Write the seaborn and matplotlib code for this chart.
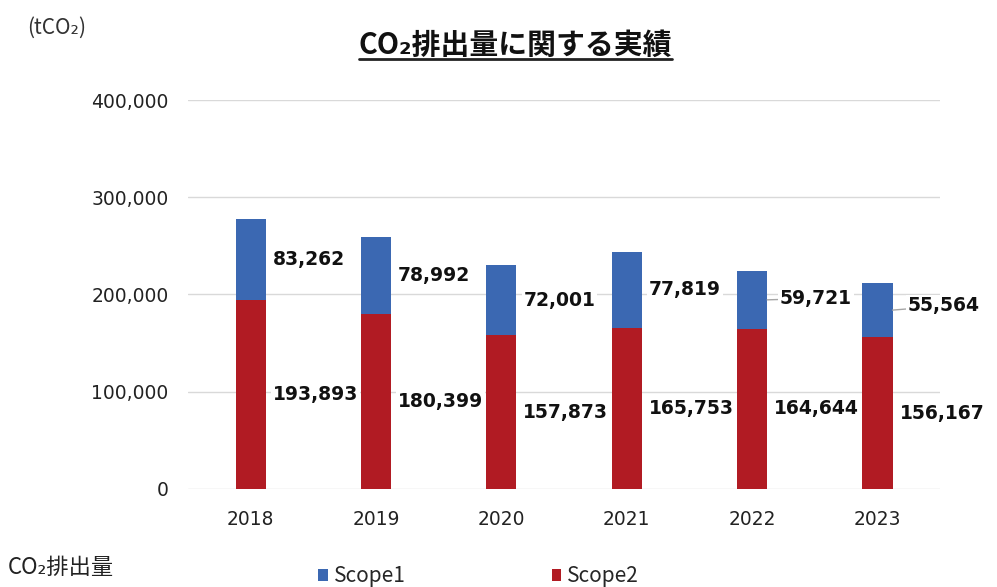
import numpy as np
import pandas as pd
import matplotlib
matplotlib.use('Agg')
import matplotlib.pyplot as plt
from matplotlib.patches import Patch
from matplotlib.lines import Line2D
import seaborn as sns

years = ['2018', '2019', '2020', '2021', '2022', '2023']
scope1 = [83262, 78992, 72001, 77819, 59721, 55564]
scope2 = [193893, 180399, 157873, 165753, 164644, 156167]

blue = '#3b68b2'
red = '#b11b23'

sns.set_theme(style='white')
plt.rcParams['font.family'] = ['DejaVu Sans', 'Noto Sans CJK JP']
jp = ['Noto Sans CJK JP', 'DejaVu Sans']

df = pd.DataFrame({'year': years, 'scope1': scope1, 'scope2': scope2})
df['total'] = df['scope1'] + df['scope2']

fig = plt.figure(figsize=(9.97, 5.87), dpi=100)
ax = fig.add_axes([0.1886, 0.167, 0.7544, 0.6626])

# stacked bars: draw the totals in blue, then Scope2 over them in red
sns.barplot(data=df, x='year', y='total', color=blue, width=0.24, saturation=1,
            linewidth=0, ax=ax)
sns.barplot(data=df, x='year', y='scope2', color=red, width=0.24, saturation=1,
            linewidth=0, ax=ax)

ax.set_ylim(0, 400000)
ax.set_yticks([0, 100000, 200000, 300000, 400000])
ax.set_yticklabels([f'{v:,}' for v in ax.get_yticks().astype(int)])
ax.yaxis.grid(True, color='#d9d9d9', linewidth=1)
ax.set_axisbelow(True)
for s in ax.spines.values():
    s.set_visible(False)
ax.set_xlabel('')
ax.set_ylabel('')
ax.tick_params(axis='y', labelsize=13.5, pad=14, length=0, colors='#222222')
ax.tick_params(axis='x', labelsize=13.4, pad=15, length=0, colors='#222222')

# data labels to the right of each bar segment
s1_off = [(5, 0), (5, 0), (5, 0), (5, 0), (9, 1), (11, 3)]
for i in range(len(years)):
    y1 = scope2[i] + scope1[i] / 2
    y2 = scope2[i] / 2
    dx, dy = s1_off[i]
    lead = dict(arrowstyle='-', color='#a6a6a6', lw=1, shrinkA=0, shrinkB=0) if dx > 5 else None
    ax.annotate(f'{scope1[i]:,}', xy=(i + 0.12, y1), xytext=(dx, dy), textcoords='offset points',
                ha='left', va='center', fontsize=13.5, fontweight='bold', color='#111111',
                bbox=dict(boxstyle='square,pad=0.1', fc='white', ec='none'),
                arrowprops=lead)
    ax.annotate(f'{scope2[i]:,}', xy=(i + 0.12, y2), xytext=(5, 0), textcoords='offset points',
                ha='left', va='center', fontsize=13.5, fontweight='bold', color='#111111',
                bbox=dict(boxstyle='square,pad=0.1', fc='white', ec='none'))

# title with underline
title = fig.text(0.517, 0.923, 'CO₂排出量に関する実績', ha='center', va='center',
                 fontsize=20.8, fontweight='bold', family=jp, color='#111111')
fig.canvas.draw()
bb = title.get_window_extent().transformed(fig.transFigure.inverted())
fig.add_artist(Line2D([bb.x0, bb.x1], [bb.y0 + 0.002, bb.y0 + 0.002], color='#222222', lw=2))

fig.text(0.027, 0.952, '(tCO₂)', ha='left', va='center', fontsize=15, family=jp, color='#333333')
fig.text(0.008, 0.034, 'CO₂排出量', ha='left', va='center', fontsize=16, family=jp, color='#222222')

handles = [Patch(facecolor=blue, edgecolor='none', label='Scope1'),
           Patch(facecolor=red, edgecolor='none', label='Scope2')]
fig.legend(handles=handles, loc='center', bbox_to_anchor=(0.48, 0.018), ncol=2, frameon=False,
           handlelength=0.45, handleheight=0.45, handletextpad=0.3, columnspacing=7,
           prop={'family': jp, 'size': 15})

fig.savefig('out.png', dpi=100)
